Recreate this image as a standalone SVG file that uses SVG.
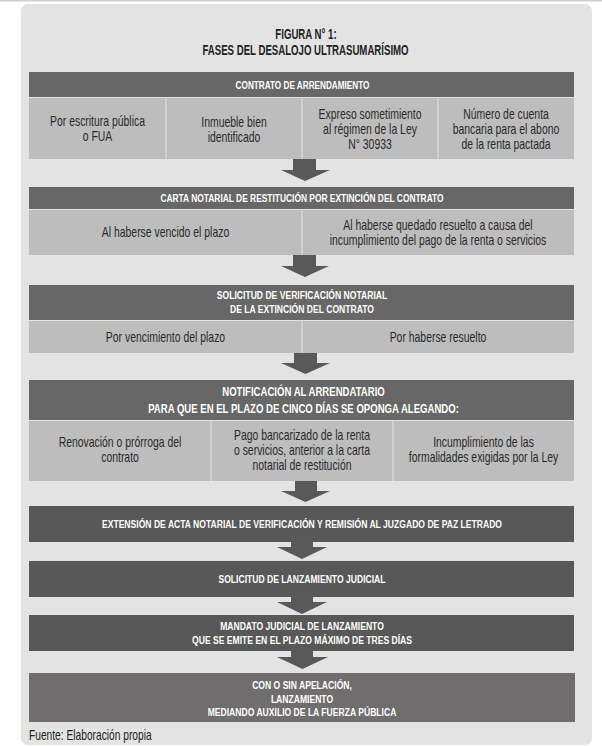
<svg xmlns="http://www.w3.org/2000/svg" width="602" height="746" viewBox="0 0 602 746">
<style>
text{font-family:"Liberation Sans",Arial,sans-serif;text-anchor:middle}
.t{font-size:14.5px;font-weight:bold;fill:#222}
.h{font-size:10.5px;font-weight:bold;fill:#fff}
.h2{font-size:11px;font-weight:bold;fill:#fff}
.hb{font-size:13.5px;font-weight:bold;fill:#fff}
.b{font-size:14px;fill:#2a2a2a}
.hd{fill:#676767}
.dk{fill:#585858}
.lt{fill:#6f6d6d}
.cell{fill:#bdbdbd}
.div{stroke:#e2e2e2;stroke-width:1}
.arr{fill:#595959}
.src{font-size:14px;fill:#222;text-anchor:start}
</style>
<rect x="0" y="0" width="602" height="746" fill="#ffffff"/>
<rect x="0" y="0" width="602" height="1.5" fill="#cfcfcf"/>
<rect id="panel" x="21" y="4" width="571" height="741" rx="7" fill="#e3e3e3"/>

<g id="title">
<text class="t" transform="translate(306,39) scale(0.665,1)">FIGURA N° 1:</text>
<text class="t" transform="translate(305.5,55) scale(0.665,1)">FASES DEL DESALOJO ULTRASUMARÍSIMO</text>
</g>

<g id="s1">
<rect class="hd" x="29" y="72" width="545" height="25"/>
<text class="h" transform="translate(302.5,89) scale(0.78,1)">CONTRATO DE ARRENDAMIENTO</text>
<rect class="cell" x="29" y="98" width="545" height="61"/>
<line class="div" x1="29" y1="97.5" x2="574" y2="97.5"/>
<line class="div" x1="166" y1="98" x2="166" y2="159"/>
<line class="div" x1="302" y1="98" x2="302" y2="159"/>
<line class="div" x1="438" y1="98" x2="438" y2="159"/>
<text class="b" transform="translate(97.5,126) scale(0.745,1)">Por escritura pública</text>
<text class="b" transform="translate(97.5,141) scale(0.745,1)">o FUA</text>
<text class="b" transform="translate(234,127) scale(0.745,1)">Inmueble bien</text>
<text class="b" transform="translate(234,142) scale(0.745,1)">identificado</text>
<text class="b" transform="translate(370,119) scale(0.745,1)">Expreso sometimiento</text>
<text class="b" transform="translate(370,134) scale(0.745,1)">al régimen de la Ley</text>
<text class="b" transform="translate(370,149) scale(0.745,1)">N° 30933</text>
<text class="b" transform="translate(506,119) scale(0.745,1)">Número de cuenta</text>
<text class="b" transform="translate(506,134) scale(0.745,1)">bancaria para el abono</text>
<text class="b" transform="translate(506,149) scale(0.745,1)">de la renta pactada</text>
</g>

<g id="s2">
<rect class="hd" x="29" y="187" width="545" height="22"/>
<text class="h" transform="translate(302,202) scale(0.8,1)">CARTA NOTARIAL DE RESTITUCIÓN POR EXTINCIÓN DEL CONTRATO</text>
<rect class="cell" x="29" y="210" width="545" height="45"/>
<line class="div" x1="29" y1="209.5" x2="574" y2="209.5"/>
<line class="div" x1="302" y1="210" x2="302" y2="255"/>
<text class="b" transform="translate(165.5,237) scale(0.745,1)">Al haberse vencido el plazo</text>
<text class="b" transform="translate(438,229.5) scale(0.745,1)">Al haberse quedado resuelto a causa del</text>
<text class="b" transform="translate(438,244.5) scale(0.745,1)">incumplimiento del pago de la renta o servicios</text>
</g>

<g id="s3">
<rect class="hd" x="29" y="285" width="545" height="35"/>
<text class="h2" transform="translate(302,299) scale(0.78,1)">SOLICITUD DE VERIFICACIÓN NOTARIAL</text>
<text class="h2" transform="translate(302,312.5) scale(0.78,1)">DE LA EXTINCIÓN DEL CONTRATO</text>
<rect class="cell" x="29" y="321" width="545" height="32"/>
<line class="div" x1="29" y1="320.5" x2="574" y2="320.5"/>
<line class="div" x1="302" y1="321" x2="302" y2="353"/>
<text class="b" transform="translate(165.5,341.5) scale(0.745,1)">Por vencimiento del plazo</text>
<text class="b" transform="translate(438,341.5) scale(0.745,1)">Por haberse resuelto</text>
</g>

<g id="s4">
<rect class="hd" x="29" y="380" width="545" height="40"/>
<text class="hb" transform="translate(303.5,395.5) scale(0.71,1)">NOTIFICACIÓN AL ARRENDATARIO</text>
<text class="hb" transform="translate(303.5,413) scale(0.71,1)">PARA QUE EN EL PLAZO DE CINCO DÍAS SE OPONGA ALEGANDO:</text>
<rect class="cell" x="29" y="421" width="545" height="60"/>
<line class="div" x1="29" y1="420.5" x2="574" y2="420.5"/>
<line class="div" x1="211" y1="421" x2="211" y2="481"/>
<line class="div" x1="393" y1="421" x2="393" y2="481"/>
<text class="b" transform="translate(120,447) scale(0.745,1)">Renovación o prórroga del</text>
<text class="b" transform="translate(120,462) scale(0.745,1)">contrato</text>
<text class="b" transform="translate(302,440) scale(0.745,1)">Pago bancarizado de la renta</text>
<text class="b" transform="translate(302,455) scale(0.745,1)">o servicios, anterior a la carta</text>
<text class="b" transform="translate(302,470) scale(0.745,1)">notarial de restitución</text>
<text class="b" transform="translate(483.5,447) scale(0.745,1)">Incumplimiento de las</text>
<text class="b" transform="translate(483.5,462) scale(0.745,1)">formalidades exigidas por la Ley</text>
</g>

<g id="s5">
<rect class="dk" x="29" y="506" width="545" height="36"/>
<text class="h2" transform="translate(302,528) scale(0.78,1)">EXTENSIÓN DE ACTA NOTARIAL DE VERIFICACIÓN Y REMISIÓN AL JUZGADO DE PAZ LETRADO</text>
</g>

<g id="s6">
<rect class="dk" x="29" y="561" width="545" height="36"/>
<text class="h2" transform="translate(302,583) scale(0.78,1)">SOLICITUD DE LANZAMIENTO JUDICIAL</text>
</g>

<g id="s7">
<rect class="dk" x="29" y="615" width="545" height="36"/>
<text class="h2" transform="translate(302,630) scale(0.78,1)">MANDATO JUDICIAL DE LANZAMIENTO</text>
<text class="h2" transform="translate(302,643.5) scale(0.78,1)">QUE SE EMITE EN EL PLAZO MÁXIMO DE TRES DÍAS</text>
</g>

<g id="s8">
<rect class="lt" x="29" y="673" width="546" height="49"/>
<text class="h2" transform="translate(302,689) scale(0.78,1)">CON O SIN APELACIÓN,</text>
<text class="h2" transform="translate(302,702.5) scale(0.78,1)">LANZAMIENTO</text>
<text class="h2" transform="translate(302,716) scale(0.78,1)">MEDIANDO AUXILIO DE LA FUERZA PÚBLICA</text>
</g>

<g id="connectors">
<polygon class="arr" points="293,159 316,159 316,170 330,170 305,181 281,170 293,170"/>
<polygon class="arr" points="293,255 316,255 316,266 329,266 305,277 281,266 293,266"/>
<polygon class="arr" points="294,353 317,353 317,363 330,363 305.5,374 281,363 294,363"/>
<polygon class="arr" points="295,481 317,481 317,491 330,491 305.5,502 281,491 295,491"/>
<polygon class="arr" points="291,542 313,542 313,547 327,547 302,559 277,547 291,547"/>
<polygon class="arr" points="291,597 313,597 313,602 327,602 302,614 277,602 291,602"/>
<polygon class="arr" points="291,651 313,651 313,657 328,657 302.5,669 277,657 291,657"/>
</g>

<text class="src" transform="translate(29,740) scale(0.73,1)">Fuente: Elaboración propia</text>
</svg>
